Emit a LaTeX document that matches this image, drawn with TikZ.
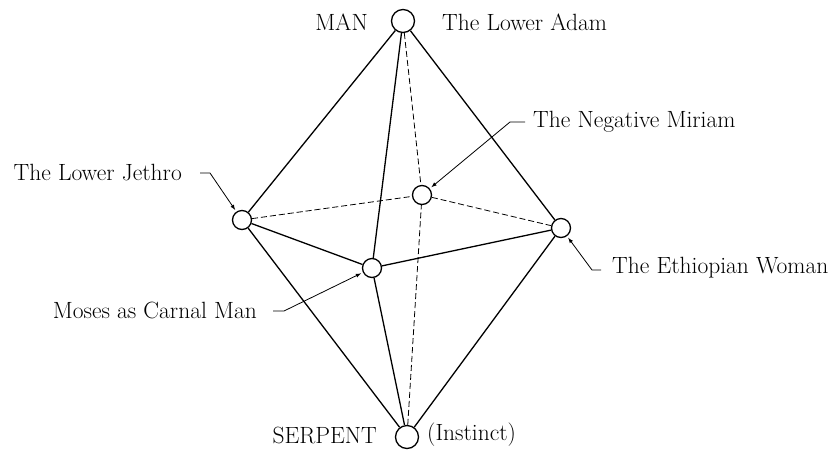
\documentclass[tikz,border=0pt]{standalone}
\usepackage{tikz}
\usetikzlibrary{arrows, positioning, calc}

\begin{document}
\begin{tikzpicture}[
  x=1pt, y=-1pt, font=\fontsize{23.5}{28}\selectfont,
  > = latex,
  vertex/.style = {draw,circle,fill=white,line width=1.3pt,inner sep=0pt,minimum size=19pt},
  pole/.style = {vertex,minimum size=23pt},
  lbl/.style = {inner sep=3pt},
  edge/.style = {line width=1.3pt},
  hidden/.style = {line width=0.8pt,dash pattern=on 6pt off 3pt},
  pointer/.style = {->,line width=0.8pt,shorten >=2pt}
  ]
  \useasboundingbox (0,0) rectangle (828,451);
  \node[pole] (man) at (403,21) {};
  \node[pole] (serpent) at (407,437) {};
  \node[vertex] (jethro) at (242,220) {};
  \node[vertex] (miriam) at (422,195) {};
  \node[vertex] (ethiopian) at (561,228) {};
  \node[vertex] (moses) at (372,268) {};
  % hidden edges
  \draw[hidden] (man) -- (miriam);
  \draw[hidden] (serpent) -- (miriam);
  \draw[hidden] (jethro) -- (miriam);
  \draw[hidden] (miriam) -- (ethiopian);
  % visible edges
  \foreach \v in {jethro,moses,ethiopian} {
    \draw[edge] (man) -- (\v);
    \draw[edge] (serpent) -- (\v);
  }
  \draw[edge] (jethro) -- (moses);
  \draw[edge] (moses) -- (ethiopian);
  % labels
  \node[lbl,anchor=east] (manlbl) at (371,22) {MAN};
  \node[lbl,anchor=west] (adamlbl) at (439,22) {The Lower Adam};
  \node[lbl,anchor=east] (serpentlbl) at (380,435) {SERPENT};
  \node[lbl,anchor=west] (instinctlbl) at (424,435) {(Instinct)};
  \node[lbl,anchor=west] (miriamlbl) at (530,122) {The Negative Miriam};
  \node[lbl,anchor=east] (jethrolbl) at (185,173) {The Lower Jethro};
  \node[lbl,anchor=east] (moseslbl) at (260,310) {Moses as Carnal Man};
  \node[lbl,anchor=west] (ethiopianlbl) at (609,268) {The Ethiopian Woman};
  % pointers
  \coordinate (miriamtail) at (525,122);
  \coordinate (jethrotail) at (200,173);
  \coordinate (mosestail) at (273,311);
  \coordinate (ethiopiantail) at (601,270);
  \draw[pointer] (miriamtail) -- ++(-15,0) -- (miriam);
  \draw[pointer] (jethrotail) -- ++(10,0) -- (jethro);
  \draw[pointer] (mosestail) -- ++(11,0) -- (moses);
  \draw[pointer] (ethiopiantail) -- ++(-9,0) -- (ethiopian);
\end{tikzpicture}
\end{document}
